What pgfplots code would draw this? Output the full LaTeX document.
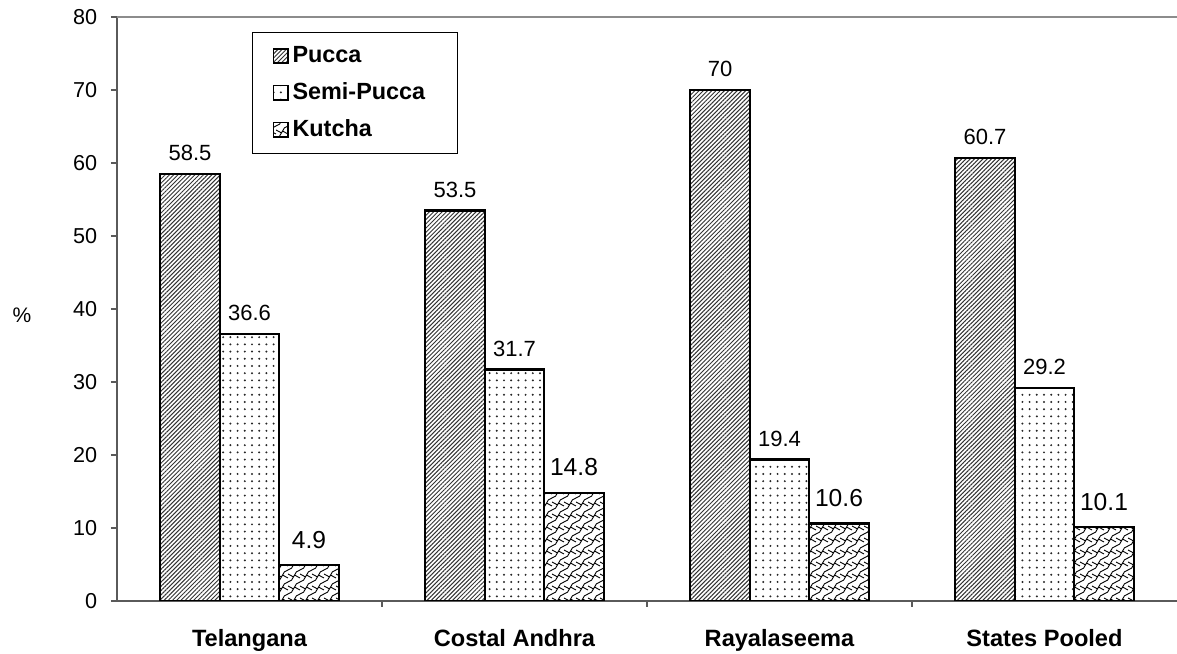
\documentclass[border=0pt]{standalone}
\usepackage{pgfplots}
\pgfplotsset{compat=1.18}
\usepackage{fontspec}
\setmainfont{Liberation Sans}
\usetikzlibrary{patterns,patterns.meta}
\pgfdeclarepatternformonly{scales}{\pgfpoint{-0.5pt}{-0.5pt}}{\pgfpoint{6.5pt}{6.5pt}}{\pgfpoint{6pt}{6pt}}{
  \pgfsetlinewidth{0.45pt}
  \pgfpathmoveto{\pgfpoint{0pt}{0pt}}
  \pgfpathcurveto{\pgfpoint{3pt}{0pt}}{\pgfpoint{3pt}{6pt}}{\pgfpoint{6pt}{6pt}}
  \pgfpathmoveto{\pgfpoint{0pt}{4pt}}
  \pgfpathcurveto{\pgfpoint{1pt}{3.2pt}}{\pgfpoint{2pt}{3.2pt}}{\pgfpoint{2.6pt}{2.6pt}}
  \pgfpathmoveto{\pgfpoint{3.4pt}{3.4pt}}
  \pgfpathcurveto{\pgfpoint{4pt}{2.8pt}}{\pgfpoint{5pt}{2.8pt}}{\pgfpoint{6pt}{2pt}}
  \pgfusepath{stroke}
}
\definecolor{axisgray}{HTML}{5A5A5A}
\definecolor{topgray}{HTML}{8C8C8C}
\begin{document}
\begin{tikzpicture}
\begin{axis}[
  name=ax,
  width=530pt, height=292pt, scale only axis,
  xmin=0.5, xmax=4.5, ymin=0, ymax=80,
  ybar=0pt, bar width=29.75pt,
  axis lines*=left,
  axis line style={axisgray, line width=0.8pt},
  tick align=outside,
  major tick length=3pt, minor tick length=3pt,
  tick style={axisgray, line width=0.6pt},
  xtick={1,2,3,4},
  xticklabels={Telangana, Costal Andhra, Rayalaseema, States Pooled},
  major x tick style={draw=none},
  minor xtick={1.5,2.5,3.5},
  x tick label style={font=\bfseries\fontsize{11.8}{14}\selectfont, anchor=base, yshift=-20pt},
  ytick={0,10,...,80},
  y tick label style={font=\fontsize{10.8}{12}\selectfont, xshift=-3.4pt},
  /pgf/number format/assume math mode=true,
  ylabel={\%},
  ylabel style={rotate=-90, at={(rel axis cs:0,0.49)}, anchor=center, xshift=-47.5pt, font=\fontsize{10.5}{12}\selectfont},
  legend style={at={(rel axis cs:0.1274,0.9743)}, anchor=north west, draw=black, line width=0.5pt,
     font=\bfseries\fontsize{11.7}{14}\selectfont, row sep=4.5pt, inner xsep=10pt, inner ysep=5pt,
     cells={anchor=west}},
  legend cell align=left,
  legend image code/.code={\draw[#1, line width=0.8pt] (0pt,-3.6pt) rectangle (7.2pt,3.6pt);},
  nodes near coords,
  every node near coord/.append style={font=\fontsize{11}{13}\selectfont, anchor=base, inner sep=0pt, yshift=6.5pt, text=black},
]
\addplot[draw=black, line width=1.2pt,
  pattern={Lines[angle=45, distance=1.5pt, line width=0.5pt]}, pattern color=black!80]
  coordinates {(1,58.5) (2,53.5) (3,70) (4,60.7)};
\addlegendentry{Pucca}
\addplot[draw=black, line width=1.2pt,
  pattern={Dots[distance=3.6pt, radius=0.55pt]}, pattern color=black!85]
  coordinates {(1,36.6) (2,31.7) (3,19.4) (4,29.2)};
\addlegendentry{Semi-Pucca\rule{4pt}{0pt}}
\addplot[draw=black, line width=1.2pt,
  pattern=scales, pattern color=black,
  every node near coord/.append style={font=\fontsize{12.3}{14}\selectfont, yshift=2pt}]
  coordinates {(1,4.9) (2,14.8) (3,10.6) (4,10.1)};
\addlegendentry{Kutcha}
\end{axis}
\draw[topgray, line width=0.8pt] (ax.north west) -- (ax.north east);
\pgfresetboundingbox
\path ([xshift=-58.5pt,yshift=-26.5pt]ax.south west) rectangle ([yshift=8.5pt]ax.north east);
\end{tikzpicture}
\end{document}
